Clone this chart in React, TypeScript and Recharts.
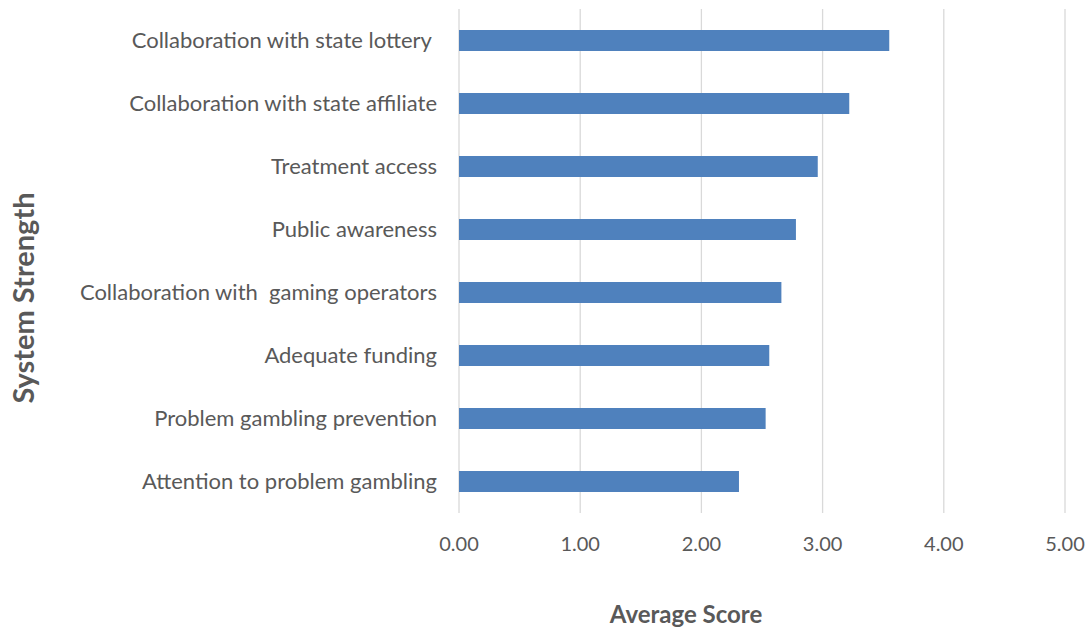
import React from "react";
import { BarChart, Bar, XAxis, YAxis, CartesianGrid, Label } from "recharts";

const categories = [
  "Collaboration with state lottery\u00A0",
  "Collaboration with state affiliate",
  "Treatment access",
  "Public awareness",
  "Collaboration with\u00A0 gaming operators",
  "Adequate funding",
  "Problem gambling prevention",
  "Attention to problem gambling",
];
const scores = [3.55, 3.22, 2.96, 2.78, 2.66, 2.56, 2.53, 2.31];
const xTicks = [0, 1, 2, 3, 4, 5];

const data = categories.map((c, i) => ({ name: c, score: scores[i] }));

const FONT = "Lato, 'Open Sans', sans-serif";
const TEXT = "#595959";

export default function App() {
  return (
    <div style={{ position: "absolute", left: 0, top: 0 }}>
      <BarChart
        width={1091}
        height={631}
        data={data}
        layout="vertical"
        margin={{ top: 9, right: 26, bottom: 78, left: 0 }}
      >
        <CartesianGrid horizontal={false} vertical={true} stroke="#d9d9d9" strokeWidth={1.3} />
        <XAxis
          type="number"
          domain={[0, 5]}
          ticks={xTicks}
          tickFormatter={(v: number) => v.toFixed(2)}
          axisLine={false}
          tickLine={false}
          tickSize={0}
          tickMargin={24}
          height={40}
          tick={{ fill: TEXT, fontSize: 20, fontFamily: FONT }}
        >
          <Label
            content={(props: any) => {
              const vb = props.viewBox || {};
              return (
                <text
                  x={vb.x + vb.width / 2 - 76}
                  y={vb.y + 110}
                  textAnchor="middle"
                  fill={TEXT}
                  fontSize={24}
                  fontWeight="bold"
                  fontFamily={FONT}
                >
                  Average Score
                </text>
              );
            }}
          />
        </XAxis>
        <YAxis
          type="category"
          dataKey="name"
          width={459}
          axisLine={false}
          tickLine={false}
          tickSize={0}
          tickMargin={22}
          interval={0}
          tick={{ fill: TEXT, fontSize: 22, fontFamily: FONT }}
        >
          <Label
            content={(props: any) => {
              const vb = props.viewBox || {};
              const cx = vb.x + 34;
              const cy = vb.y + vb.height / 2 + 37;
              return (
                <text
                  x={cx}
                  y={cy}
                  transform={`rotate(-90, ${cx}, ${cy})`}
                  textAnchor="middle"
                  fill={TEXT}
                  fontSize={29}
                  fontWeight="bold"
                  fontFamily={FONT}
                >
                  System Strength
                </text>
              );
            }}
          />
        </YAxis>
        <Bar dataKey="score" fill="#4F81BD" barSize={21} isAnimationActive={false} />
      </BarChart>
    </div>
  );
}
